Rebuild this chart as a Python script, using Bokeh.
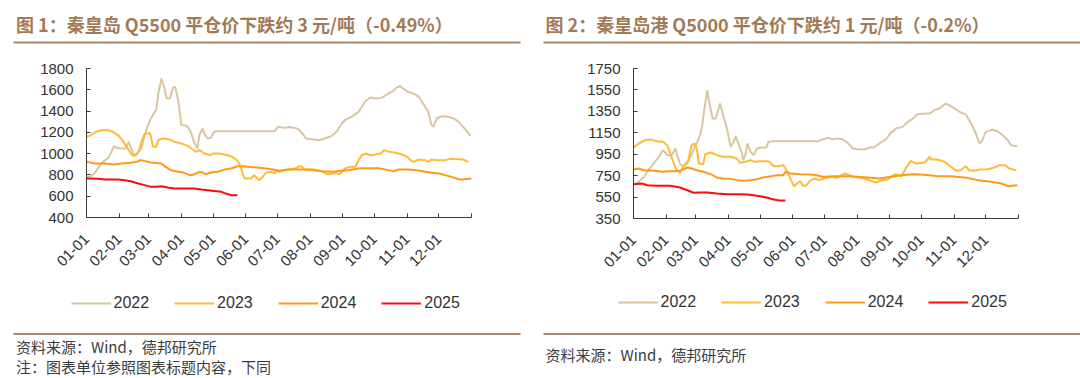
import math
from bokeh.plotting import figure
from bokeh.models import Range1d, FixedTicker, Legend, LegendItem
from bokeh.layouts import row, column
from bokeh.core.properties import value
from bokeh.embed import file_html
from bokeh.resources import INLINE

# ---------------- data ----------------
month_labels = ["01-01", "02-01", "03-01", "04-01", "05-01", "06-01",
                "07-01", "08-01", "09-01", "10-01", "11-01", "12-01"]
month_start_days = [0, 31, 59, 90, 120, 151, 181, 212, 243, 273, 304, 334]
year_end_day = 365
years = ["2022", "2023", "2024", "2025"]

title1 = "图 1：秦皇岛 Q5500 平仓价下跌约 3 元/吨（-0.49%）"
title2 = "图 2：秦皇岛港 Q5000 平仓价下跌约 1 元/吨（-0.2%）"
source_text = "资料来源：Wind，德邦研究所"
note_text = "注：图表单位参照图表标题内容，下同"

c1_y_ticks = [400, 600, 800, 1000, 1200, 1400, 1600, 1800]
c2_y_ticks = [350, 550, 750, 950, 1150, 1350, 1550, 1750]

# Chart 1: Q5500 (day of year, price)
c1_2022_day = [0, 4, 8, 12, 17, 21, 26, 30, 33, 37, 40, 42, 45, 48, 52, 55, 58, 61, 66, 68, 71, 73, 76, 79, 82, 84, 87,
               90, 93, 96, 99, 102, 105, 107, 110, 112, 115, 118, 121, 124, 126, 178, 181, 182, 188, 192, 198, 201,
               206, 208, 214, 220, 226, 232, 237, 242, 245, 251, 258, 264, 269, 274, 280, 286, 291, 294, 297, 300,
               305, 311, 315, 319, 324, 327, 329, 332, 337, 343, 348, 353, 357, 362, 364]
c1_2022_val = [780, 785, 820, 880, 935, 960, 1070, 1050, 1048, 1048, 1110, 1060, 985, 1000, 1048, 1170, 1260, 1330,
               1410, 1560, 1705, 1650, 1518, 1518, 1620, 1628, 1500, 1267, 1267, 1252, 1200, 1110, 1048, 1173, 1236,
               1180, 1142, 1150, 1205, 1210, 1210, 1210, 1245, 1252, 1242, 1250, 1242, 1228, 1173, 1142, 1136, 1126,
               1142, 1164, 1205, 1283, 1314, 1346, 1393, 1487, 1527, 1518, 1524, 1565, 1590, 1621, 1637, 1612, 1581,
               1559, 1534, 1471, 1393, 1267, 1252, 1330, 1352, 1346, 1330, 1299, 1252, 1195, 1164]
c1_2023_day = [0, 4, 9, 14, 20, 25, 30, 34, 37, 41, 44, 47, 50, 52, 55, 60, 61, 63, 66, 68, 72, 79, 83, 90, 96, 101,
               104, 107, 112, 117, 120, 126, 131, 137, 142, 145, 148, 150, 156, 159, 162, 164, 167, 170, 175, 178,
               181, 182, 188, 198, 201, 204, 207, 214, 223, 228, 233, 237, 240, 245, 250, 255, 258, 261, 265, 269,
               274, 279, 282, 287, 293, 299, 304, 307, 310, 315, 321, 324, 327, 332, 340, 345, 353, 357, 362]
c1_2023_val = [1158, 1173, 1205, 1220, 1220, 1205, 1173, 1127, 1080, 1017, 979, 985, 1033, 1111, 1183, 1195, 1164,
               1064, 1064, 1127, 1142, 1133, 1111, 1095, 1073, 1039, 1017, 1033, 1001, 985, 1001, 1001, 992, 976,
               945, 907, 813, 766, 766, 798, 766, 751, 782, 820, 829, 815, 845, 829, 845, 860, 882, 880, 851, 845,
               835, 807, 813, 817, 807, 860, 876, 876, 939, 985, 1001, 985, 992, 1001, 1033, 1017, 1008, 992, 970,
               939, 923, 945, 939, 923, 945, 939, 939, 951, 948, 945, 923]
c1_2024_day = [0, 8, 17, 26, 33, 42, 48, 51, 55, 61, 71, 75, 80, 87, 93, 98, 102, 107, 110, 113, 118, 124, 131, 137,
               143, 148, 153, 162, 170, 177, 182, 191, 201, 214, 223, 233, 239, 248, 258, 267, 277, 286, 291, 296,
               305, 315, 324, 334, 340, 346, 353, 357, 362, 365]
c1_2024_val = [923, 907, 907, 898, 907, 914, 923, 939, 932, 917, 907, 876, 845, 829, 820, 798, 804, 829, 823, 807,
               823, 829, 851, 860, 882, 882, 876, 870, 860, 851, 840, 851, 851, 851, 835, 829, 838, 845, 860, 863,
               863, 845, 835, 851, 851, 841, 826, 813, 798, 782, 760, 757, 763, 766]
c1_2025_day = [0, 11, 17, 30, 36, 42, 49, 55, 61, 66, 71, 77, 83, 93, 102, 109, 115, 121, 128, 132, 137, 143]
c1_2025_val = [766, 763, 757, 757, 751, 741, 719, 704, 688, 688, 694, 682, 672, 672, 672, 663, 657, 650, 641, 625,
               610, 610]

# Chart 2: Q5000 (day of year, price)
c2_2022_day = [3, 5, 10, 14, 19, 24, 28, 32, 36, 40, 41, 44, 47, 51, 54, 59, 62, 65, 67, 70, 72, 75, 78, 82, 85, 89,
               92, 95, 97, 100, 103, 104, 106, 108, 111, 114, 117, 122, 126, 128, 133, 172, 174, 177, 182, 186, 188,
               193, 198, 203, 208, 212, 219, 224, 228, 233, 239, 244, 249, 255, 260, 265, 269, 276, 281, 285, 290,
               296, 301, 306, 310, 315, 320, 324, 328, 330, 334, 340, 345, 350, 355, 358, 364]
c2_2022_val = [680, 692, 739, 801, 863, 926, 988, 941, 941, 1003, 957, 863, 832, 863, 926, 1034, 1097, 1205, 1361,
               1548, 1423, 1283, 1283, 1423, 1314, 1174, 1019, 1066, 1118, 1034, 957, 894, 941, 1050, 972, 941, 1003,
               1013, 1013, 1066, 1072, 1072, 1066, 1081, 1097, 1103, 1090, 1097, 1090, 1056, 1003, 997, 994, 1013,
               1013, 1050, 1087, 1149, 1190, 1205, 1252, 1283, 1324, 1330, 1330, 1361, 1377, 1423, 1398, 1367, 1339,
               1324, 1236, 1159, 1050, 1066, 1159, 1180, 1165, 1128, 1081, 1034, 1025]
c2_2023_day = [0, 5, 11, 16, 22, 28, 32, 36, 40, 43, 44, 47, 52, 55, 58, 60, 62, 66, 68, 73, 79, 85, 92, 98, 101, 106,
               111, 115, 120, 126, 129, 133, 138, 142, 144, 148, 152, 155, 158, 161, 164, 168, 172, 176, 181, 187,
               193, 200, 205, 209, 219, 225, 230, 235, 241, 248, 254, 259, 263, 268, 276, 281, 282, 288, 295, 301,
               306, 310, 315, 318, 323, 328, 336, 342, 347, 352, 356, 363]
c2_2023_val = [1013, 1050, 1081, 1087, 1072, 1066, 1034, 926, 817, 786, 775, 832, 894, 1034, 1050, 1003, 863, 857,
               950, 966, 941, 926, 926, 910, 870, 879, 894, 879, 885, 885, 879, 838, 838, 848, 817, 739, 652, 677,
               699, 652, 661, 708, 723, 708, 723, 739, 730, 770, 754, 739, 723, 702, 686, 708, 714, 764, 745, 832,
               888, 863, 873, 926, 901, 901, 879, 832, 795, 801, 838, 801, 795, 807, 810, 826, 848, 848, 817, 801]
c2_2024_day = [0, 5, 10, 19, 28, 32, 38, 44, 47, 51, 55, 60, 66, 73, 79, 85, 92, 98, 104, 111, 117, 123, 130, 136,
               142, 144, 149, 158, 168, 174, 179, 181, 191, 200, 212, 222, 233, 244, 254, 265, 276, 289, 301, 314,
               327, 339, 349, 355, 359, 364]
c2_2024_val = [807, 817, 801, 795, 786, 792, 792, 795, 807, 826, 817, 801, 786, 764, 733, 723, 720, 708, 702, 708,
               717, 733, 745, 754, 754, 786, 770, 764, 761, 754, 739, 739, 745, 745, 739, 733, 723, 739, 754, 764,
               758, 745, 745, 733, 708, 692, 677, 652, 655, 661]
c2_2025_day = [0, 8, 13, 22, 35, 44, 51, 57, 63, 70, 79, 89, 101, 108, 114, 120, 126, 133, 138, 144]
c2_2025_val = [670, 677, 661, 655, 655, 639, 614, 590, 593, 593, 583, 577, 577, 574, 568, 558, 546, 527, 518, 518]

# ---------------- styles ----------------
series_colors = ["#D9C6A0", "#FFBB38", "#FF9A16", "#FF0A0A"]
axis_color = "#3A3A3A"
text_color = "#333333"
brown_title = "#A37A56"
brown_rule = "#A8876C"
latin_font = "Liberation Sans"
cjk_font = "Noto Sans CJK SC"
PAGE_W = 1080
HEADER_H = 50
CHART_H = 235
FOOTER_H = 378 - HEADER_H - CHART_H


def blank_canvas(w, h, y_top):
    p = figure(width=w, height=h, x_range=Range1d(0, w), y_range=Range1d(y_top + h, y_top),
               min_border=0, output_backend="svg", toolbar_location=None)
    p.axis.visible = False
    p.grid.visible = False
    p.outline_line_color = None
    p.background_fill_color = None
    p.border_fill_color = None
    return p


def make_chart(series_days, series_vals, y0, y1, y_ticks, fl, ft, fh, rb):
    fw = 385
    p = figure(frame_width=fw, frame_height=fh,
               min_border_left=fl, min_border_right=rb,
               min_border_top=ft, min_border_bottom=CHART_H - ft - fh,
               x_range=Range1d(0, year_end_day), y_range=Range1d(y0, y1),
               output_backend="svg", toolbar_location=None)
    p.outline_line_color = None
    p.grid.visible = False
    p.background_fill_color = None
    p.border_fill_color = None

    p.xaxis.ticker = FixedTicker(ticks=month_start_days + [year_end_day])
    overrides = {d: m for d, m in zip(month_start_days, month_labels)}
    overrides[year_end_day] = ""
    p.xaxis.major_label_overrides = overrides
    p.xaxis.major_label_orientation = math.pi / 4
    p.xaxis.major_label_standoff = 19
    p.yaxis.ticker = FixedTicker(ticks=y_ticks)
    p.yaxis.major_label_standoff = 13
    for ax in (p.xaxis, p.yaxis):
        ax.axis_line_color = axis_color
        ax.axis_line_width = 1
        ax.major_tick_line_color = axis_color
        ax.major_tick_in = 4
        ax.major_tick_out = 0
        ax.minor_tick_line_color = None
        ax.major_label_text_font = latin_font
        ax.major_label_text_color = text_color
    p.xaxis.major_label_text_font_size = "15px"
    p.yaxis.major_label_text_font_size = "15px"

    for d, v, c in zip(series_days, series_vals, series_colors):
        p.line(d, v, line_color=c, line_width=2)
    return p


# header: titles and rules
header = blank_canvas(PAGE_W, HEADER_H, 0)
header.text(x=[15.5, 545], y=[23, 23], text=[title1, title2], text_font=value(cjk_font),
            text_font_size=value("18px"), text_font_style="bold", text_color=brown_title,
            text_align="left", text_baseline="middle")
header.segment(x0=[13, 543], y0=[42, 42], x1=[520, 1080], y1=[42, 42], line_color=brown_rule, line_width=2)

c1 = make_chart([c1_2022_day, c1_2023_day, c1_2024_day, c1_2025_day],
                [c1_2022_val, c1_2023_val, c1_2024_val, c1_2025_val],
                400, 1800, c1_y_ticks, fl=86, ft=18, fh=149, rb=69)
c2 = make_chart([c2_2022_day, c2_2023_day, c2_2024_day, c2_2025_day],
                [c2_2022_val, c2_2023_val, c2_2024_val, c2_2025_val],
                350, 1750, c2_y_ticks, fl=93, ft=16, fh=150, rb=62)

# footer: legends (swatch renderers kept off-canvas), rules, source notes
y_top_f = HEADER_H + CHART_H
footer = blank_canvas(PAGE_W, FOOTER_H, y_top_f)
for lx, ly in [(70.5, 66), (617.5, 67)]:
    items = []
    for yr, c in zip(years, series_colors):
        r = footer.line(x=[-50, -40], y=[0, 0], line_color=c, line_width=2)
        items.append(LegendItem(label=yr, renderers=[r]))
    lg = Legend(items=items, location=(lx, ly), orientation="horizontal",
                glyph_width=40, glyph_height=16, label_height=16, label_standoff=3,
                spacing=25, padding=0, margin=0, border_line_color=None,
                background_fill_alpha=0, label_text_font=latin_font,
                label_text_font_size="16px", label_text_color=text_color)
    footer.add_layout(lg)
footer.segment(x0=[13, 543], y0=[333.6, 333.6], x1=[520, 1080], y1=[333.6, 333.6],
               line_color=brown_rule, line_width=2)
footer.text(x=[15.5, 15.5, 545], y=[345.7, 366, 354.3], text=[source_text, note_text, source_text],
            text_font=value(cjk_font), text_font_size=value("15px"), text_color="#3C3C3C",
            text_align="left", text_baseline="middle")

layout = column(header, row(c1, c2, spacing=0), footer, spacing=0)
open("out.html", "w").write(file_html(layout, INLINE))
